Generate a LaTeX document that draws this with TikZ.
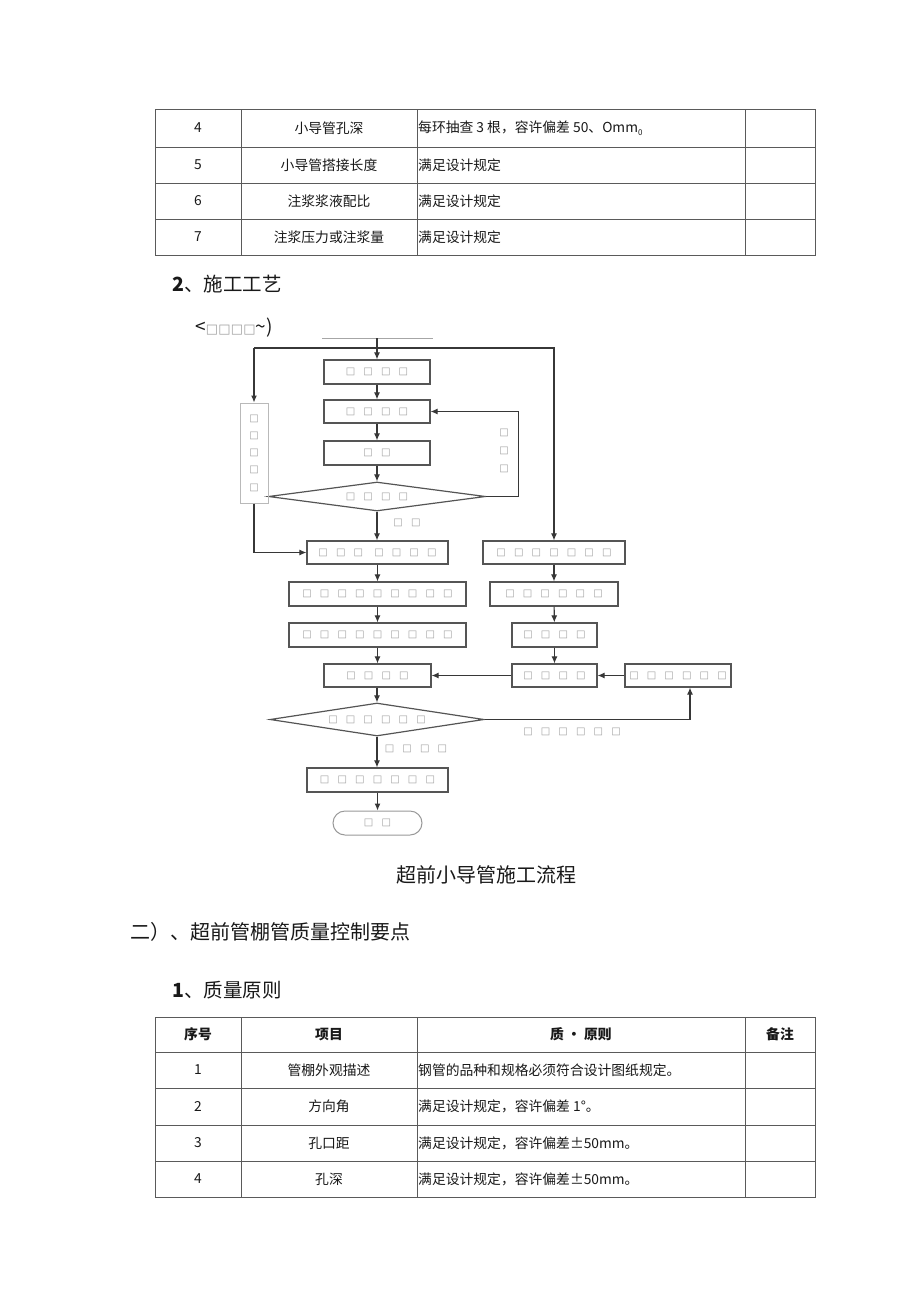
\documentclass[tikz,border=0pt]{standalone}
\usepackage{fontspec}
\setmainfont{Noto Sans CJK SC}
\newfontfamily\symf{DejaVu Sans}
\usetikzlibrary{arrows.meta,shapes.geometric}
\definecolor{ln}{RGB}{55,55,55}
\definecolor{bx}{RGB}{85,85,85}
\definecolor{sq}{RGB}{160,160,160}
\definecolor{tl}{RGB}{90,90,90}
\definecolor{tx}{RGB}{25,25,25}
\newcommand\Q{{\symf\fontsize{10}{12}\selectfont\color{sq}□}}
\newcommand\QQ{{\symf\fontsize{13}{14}\selectfont\color{sq}□}}
\newcommand\Qs[2][17.6pt]{\foreach \i in {1,...,#2}{\makebox[#1]{\Q}}}
\begin{document}
\begin{tikzpicture}[x=1pt,y=-1pt,
  tbl/.style={draw=tl, line width=0.8pt},
  tt/.style={inner sep=0pt, text=tx, font=\fontsize{13.8}{16}\selectfont},
  th/.style={tt, font=\fontsize{13.8}{16}\selectfont\bfseries},
  hd/.style={inner sep=0pt, text=tx, anchor=west, font=\fontsize{19.5}{22}\selectfont},
  pbox/.style={draw=bx, line width=1.2pt, inner sep=0pt},
  lbl/.style={inner sep=0pt},
  flow/.style={draw=ln, line width=1.1pt, -{Latex[length=7pt,width=6pt]}},
  lineonly/.style={draw=ln, line width=1.1pt}]
\useasboundingbox[fill=white] (0,0) rectangle (920,1301);

% ---------- top table ----------
\draw[tbl] (155,109) rectangle (815,255);
\foreach \y in {147,183,219} \draw[tbl] (155,\y) -- (815,\y);
\foreach \x in {241,417,745} \draw[tbl] (\x,109) -- (\x,255);
\node[tt] (a1) at (198,128) {4};
\node[tt] (a2) at (329,128) {小导管孔深};
\node[tt,anchor=west] (a3) at (418,128) {每环抽查 3 根，容许偏差 50、Omm\raisebox{-3pt}{\fontsize{8}{8}\selectfont 0}};
\node[tt] (b1t) at (198,165) {5};
\node[tt] (b2t) at (329,165) {小导管搭接长度};
\node[tt,anchor=west] (b3t) at (418,165) {满足设计规定};
\node[tt] (c1t) at (198,201) {6};
\node[tt] (c2t) at (329,201) {注浆浆液配比};
\node[tt,anchor=west] (c3t) at (418,201) {满足设计规定};
\node[tt] (d1t) at (198,237) {7};
\node[tt] (d2t) at (329,237) {注浆压力或注浆量};
\node[tt,anchor=west] (d3t) at (418,237) {满足设计规定};

% ---------- headings ----------
\node[hd] (h2) at (172,284) {\textbf{2}、施工工艺};
\node[hd, font=\fontsize{19}{20}\selectfont] (h3) at (195,328) {<\foreach \i in {1,...,4}{\makebox[12.5pt]{\QQ}}\textasciitilde)};

% ---------- flowchart ----------
\coordinate (tl) at (322,338);
\coordinate (tr) at (433,338);
\coordinate (tm) at (377,338);
\draw[draw=gray!70, line width=1pt] (tl) -- (tr);
\coordinate (jl) at (254,348);

\node[pbox, minimum width=106pt, minimum height=24pt] (n1) at (377,372) {\Qs{4}};
\node[pbox, minimum width=106pt, minimum height=23pt] (n2) at (377,411.5) {\Qs{4}};
\node[pbox, minimum width=106pt, minimum height=24pt] (n3) at (377,453) {\Qs{2}};
\node[pbox, diamond, aspect=7.5, minimum width=217pt, minimum height=29pt] (dd1) at (377,496.5) {\Qs{4}};
\node[draw=gray!55, line width=1pt, inner sep=0pt, minimum width=28pt, minimum height=100pt,
      align=center, font=\fontsize{10}{17.25}\selectfont] (L) at (254,453) {\Q\\\Q\\\Q\\\Q\\\Q};

\node[pbox, minimum width=141pt, minimum height=23pt] (n4) at (377.5,552.5) {\Qs{3}\hspace{3pt}\Qs{4}};
\node[pbox, minimum width=177pt, minimum height=24pt] (n5) at (377.5,594) {\Qs{9}};
\node[pbox, minimum width=177pt, minimum height=24pt] (n6) at (377.5,635) {\Qs{9}};
\node[pbox, minimum width=107pt, minimum height=23pt] (n7) at (377.5,675.5) {\Qs{4}};
\node[pbox, diamond, aspect=6.5, minimum width=214pt, minimum height=33pt] (dd2) at (377,719.5) {\Qs{6}};
\node[pbox, minimum width=141pt, minimum height=24pt] (n8) at (377.5,780) {\Qs{7}};
\node[draw=gray!80, line width=1pt, rounded corners=12pt, inner sep=0pt, minimum width=89pt, minimum height=24pt] (ed) at (377.5,823) {\Qs{2}};

\node[pbox, minimum width=142pt, minimum height=23pt] (r1) at (554,552.5) {\Qs{7}};
\node[pbox, minimum width=128pt, minimum height=24pt] (r2) at (554,594) {\Qs{6}};
\node[pbox, minimum width=85pt, minimum height=24pt] (r3) at (554.5,635) {\Qs{4}};
\node[pbox, minimum width=85pt, minimum height=23pt] (r4) at (554.5,675.5) {\Qs{4}};
\node[pbox, minimum width=106pt, minimum height=23pt] (r5) at (678,675.5) {\Qs{6}};

% labels
\node[lbl] (l1) at (407,523) {\Qs{2}};
\node[lbl, align=center, font=\fontsize{10}{18}\selectfont] (l2) at (504,451) {\Q\\\Q\\\Q};
\node[lbl] (l3) at (416,749) {\Qs{4}};
\node[lbl] (l4) at (572,732) {\Qs{6}};

% connectors
\draw[flow] (tm) -- (n1);
\draw[lineonly] (jl) -- (554,348);
\draw[flow] (jl) -- (L.north);
\draw[flow] (jl) -| (r1.north);
\draw[flow] (n1) -- (n2);
\draw[flow] (n2) -- (n3);
\draw[flow] (n3) -- (dd1);
\draw[flow] (dd1.east) -- ++(32,0) |- (n2.east);
\draw[flow] (dd1.south) -- (n4.north -| dd1.south);
\draw[flow] (L.south) |- (n4.west);
\draw[flow] (n4) -- (n5);
\draw[flow] (n5) -- (n6);
\draw[flow] (n6) -- (n7);
\draw[flow] (n7.south -| dd2.north) -- (dd2.north);
\draw[flow] (dd2.south) -- (n8.north -| dd2.south);
\draw[flow] (n8) -- (ed);
\draw[flow] (r1) -- (r2);
\draw[flow] (r2) -- (r3);
\draw[flow] (r3) -- (r4);
\draw[flow] (r5) -- (r4);
\draw[flow] (r4) -- (n7);
\draw[flow] (dd2.east) -| ([xshift=12pt]r5.south);

% ---------- caption & headings ----------
\node[inner sep=0pt, text=tx, font=\fontsize{20}{22}\selectfont] (cap) at (486.5,875) {超前小导管施工流程};
\node[hd, font=\fontsize{20}{22}\selectfont] (h4) at (130,932) {二）、超前管棚管质量控制要点};
\node[hd] (h5) at (172,990) {\textbf{1}、质量原则};

% ---------- bottom table ----------
\draw[tbl] (155,1017) rectangle (815,1197);
\foreach \y in {1052,1088,1125,1161} \draw[tbl] (155,\y) -- (815,\y);
\foreach \x in {241,417,745} \draw[tbl] (\x,1017) -- (\x,1197);
\node[th] (e1) at (198,1034.5) {序号};
\node[th] (e2) at (329,1034.5) {项目};
\node[th] (e3) at (581,1034.5) {质 · 原则};
\node[th] (e4) at (780,1034.5) {备注};
\node[tt] (f1) at (198,1070) {1};
\node[tt] (f2) at (329,1070) {管棚外观描述};
\node[tt,anchor=west] (f3) at (418,1070) {钢管的品种和规格必须符合设计图纸规定。};
\node[tt] (g1) at (198,1106.5) {2};
\node[tt] (g2) at (329,1106.5) {方向角};
\node[tt,anchor=west] (g3) at (418,1106.5) {满足设计规定，容许偏差 1°。};
\node[tt] (k1) at (198,1143) {3};
\node[tt] (k2) at (329,1143) {孔口距};
\node[tt,anchor=west] (k3) at (418,1143) {满足设计规定，容许偏差±50mm。};
\node[tt] (m1) at (198,1179) {4};
\node[tt] (m2) at (329,1179) {孔深};
\node[tt,anchor=west] (m3) at (418,1179) {满足设计规定，容许偏差±50mm。};
\end{tikzpicture}
\end{document}
